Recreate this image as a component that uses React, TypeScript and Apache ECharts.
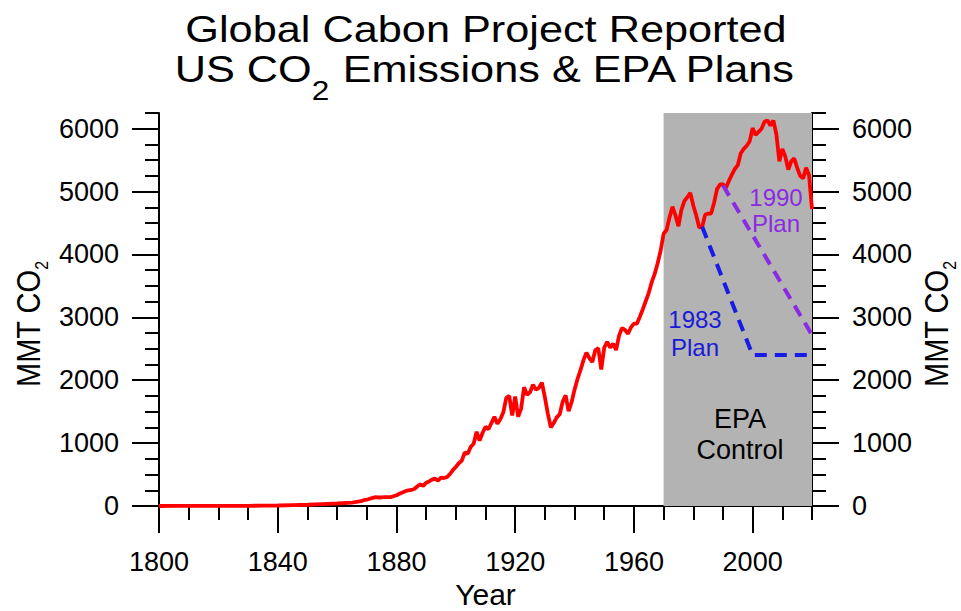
import React, { useEffect, useRef } from 'react';
import * as echarts from 'echarts';

const FONT = '"Liberation Sans", Arial, Helvetica, sans-serif';

// Early (sparse) readings, 1800-1865
const earlyYears = [1800, 1805, 1810, 1815, 1820, 1825, 1830, 1835, 1840, 1845, 1850, 1855, 1860, 1865];
const earlyValues = [0.3, 0.4, 0.6, 0.9, 1.2, 2, 3, 5, 8, 14, 20, 30, 40, 55];

// Annual readings 1866-2020 (MMT CO2)
const annualStart = 1866;
const annualValues = [
  60, 68, 78, 92, 100, 115, 130, 140, 135, 138, // 1866-1875
  140, 142, 140, 155, 170, 195, 215, 235, 250, 255, // 1876-1885
  270, 310, 345, 320, 370, 390, 420, 435, 405, 450, // 1886-1895
  445, 460, 505, 570, 620, 680, 720, 850, 830, 940, // 1896-1905
  990, 1180, 1040, 1160, 1260, 1220, 1320, 1420, 1310, 1380, // 1906-1915
  1490, 1720, 1750, 1440, 1740, 1420, 1550, 1890, 1770, 1810, // 1916-1925
  1930, 1850, 1880, 1960, 1730, 1470, 1250, 1320, 1410, 1460, // 1926-1935
  1660, 1760, 1510, 1650, 1850, 2020, 2160, 2320, 2440, 2350, // 1936-1945
  2290, 2480, 2510, 2170, 2520, 2610, 2520, 2580, 2480, 2710, // 1946-1955
  2830, 2800, 2740, 2840, 2900, 2900, 3010, 3130, 3260, 3390, // 1956-1965
  3560, 3690, 3860, 4060, 4330, 4390, 4590, 4760, 4620, 4450, // 1966-1975
  4710, 4850, 4910, 4980, 4780, 4620, 4430, 4440, 4630, 4650, // 1976-1985
  4650, 4820, 5040, 5110, 5120, 5060, 5170, 5270, 5360, 5420, // 1986-1995
  5610, 5680, 5730, 5800, 6010, 5900, 5950, 6000, 6110, 6130, // 1996-2005
  6050, 6130, 5910, 5480, 5680, 5560, 5350, 5480, 5530, 5380, // 2006-2015
  5250, 5210, 5380, 5260, 4720, // 2016-2020
];

const plan1983Years = [1983, 2000, 2020];
const plan1983Values = [4440, 2400, 2400];
const plan1990Years = [1990, 2020];
const plan1990Values = [5100, 2720];

const epaStart = 1970;
const epaEnd = 2020;

const xMajorTicks = [1800, 1840, 1880, 1920, 1960, 2000];
const xMinorTicks = [1810, 1820, 1830, 1850, 1860, 1870, 1890, 1900, 1910, 1930, 1940, 1950, 1970, 1980, 1990, 2010, 2020];
const yMajorTicks = [0, 1000, 2000, 3000, 4000, 5000, 6000];
const yMinorTicks = [250, 500, 750, 1250, 1500, 1750, 2250, 2500, 2750, 3250, 3500, 3750, 4250, 4500, 4750, 5250, 5500, 5750, 6250];

const X_MIN = 1800, X_MAX = 2020, Y_MIN = 0, Y_MAX = 6250;

export default function App() {
  const ref = useRef<HTMLDivElement>(null);
  useEffect(() => {
    if (!ref.current) return;
    const chart = echarts.init(ref.current, undefined, { renderer: 'svg' });

    const emissions: [number, number][] = [];
    earlyYears.forEach((y, i) => emissions.push([y, earlyValues[i]]));
    annualValues.forEach((v, i) => emissions.push([annualStart + i, v]));

    const axisLine = { show: true, lineStyle: { color: '#000', width: 2 } };
    const tickStyle = { color: '#000', width: 2 };
    const labelStyle = { color: '#000', fontSize: 27, fontFamily: FONT, formatter: (v: number) => String(v) };

    const yBase = { type: 'value', min: Y_MIN, max: Y_MAX, splitLine: { show: false } };
    const xBase = { type: 'value', min: X_MIN, max: X_MAX, splitLine: { show: false } };

    const yNameStyle = (x: number) => ({
      type: 'text',
      x,
      y: 324,
      rotation: Math.PI / 2,
      scaleY: 1.15,
      style: {
        text: 'MMT CO{sub|2}',
        fontSize: 29,
        lineHeight: 34,
        fontFamily: FONT,
        fill: '#000',
        align: 'center',
        verticalAlign: 'top',
        rich: {
          sub: { fontSize: 16, lineHeight: 16, padding: [20, 0, 0, 0], verticalAlign: 'top', fontFamily: FONT, fill: '#000' },
        },
      },
    });

    chart.setOption({
      animation: false,
      backgroundColor: '#fff',
      grid: { left: 159, right: 149, top: 113, bottom: 105, outerBoundsMode: 'none' },
      xAxis: [
        {
          ...xBase,
          position: 'bottom',
          axisLine,
          axisTick: { show: true, customValues: xMajorTicks, length: 27, lineStyle: tickStyle },
          axisLabel: { ...labelStyle, customValues: xMajorTicks, margin: 42 },
          name: 'Year',
          nameLocation: 'middle',
          nameGap: 72,
          nameTextStyle: { color: '#000', fontSize: 30, lineHeight: 30, fontFamily: FONT },
        },
        {
          ...xBase,
          position: 'bottom',
          axisLine: { show: false },
          axisTick: { show: true, customValues: xMinorTicks, length: 14, lineStyle: tickStyle },
          axisLabel: { show: false },
        },
      ],
      yAxis: [
        {
          ...yBase,
          position: 'left',
          axisLine,
          axisTick: { show: true, customValues: yMajorTicks, length: 27, lineStyle: tickStyle },
          axisLabel: { ...labelStyle, customValues: yMajorTicks, margin: 40 },
        },
        {
          ...yBase,
          position: 'left',
          axisLine: { show: false },
          axisTick: { show: true, customValues: yMinorTicks, length: 14, lineStyle: tickStyle },
          axisLabel: { show: false },
        },
        {
          ...yBase,
          position: 'right',
          axisLine,
          axisTick: { show: true, customValues: yMajorTicks, length: 27, lineStyle: tickStyle },
          axisLabel: { ...labelStyle, customValues: yMajorTicks, margin: 40 },
        },
        {
          ...yBase,
          position: 'right',
          axisLine: { show: false },
          axisTick: { show: true, customValues: yMinorTicks, length: 14, lineStyle: tickStyle },
          axisLabel: { show: false },
        },
      ],
      series: [
        {
          name: 'US CO2 emissions',
          type: 'line',
          xAxisIndex: 0,
          yAxisIndex: 0,
          data: emissions,
          showSymbol: false,
          symbol: 'none',
          lineStyle: { color: '#ff0000', width: 3.8 },
          z: 3,
          markArea: {
            silent: true,
            itemStyle: { color: '#b3b3b3' },
            data: [[{ xAxis: epaStart, yAxis: Y_MIN }, { xAxis: epaEnd, yAxis: Y_MAX }]],
          },
        },
        {
          name: '1983 Plan',
          type: 'line',
          xAxisIndex: 0,
          yAxisIndex: 0,
          data: plan1983Years.map((y, i) => [y, plan1983Values[i]]),
          showSymbol: false,
          symbol: 'none',
          lineStyle: { color: '#1a1ae6', width: 4, type: [12, 8] },
          z: 4,
        },
        {
          name: '1990 Plan',
          type: 'line',
          xAxisIndex: 0,
          yAxisIndex: 0,
          data: plan1990Years.map((y, i) => [y, plan1990Values[i]]),
          showSymbol: false,
          symbol: 'none',
          lineStyle: { color: '#8a2be2', width: 4, type: [12, 8] },
          z: 4,
        },
      ],
      graphic: [
        {
          type: 'text',
          x: 486,
          y: 30,
          scaleX: 1.17,
          style: {
            text: 'Global Cabon Project Reported',
            fontSize: 37,
            fontFamily: FONT,
            fill: '#000',
            align: 'center',
            verticalAlign: 'middle',
          },
        },
        {
          type: 'text',
          x: 485,
          y: 48,
          scaleX: 1.17,
          style: {
            text: 'US CO{sub|2} Emissions & EPA Plans',
            fontSize: 37,
            lineHeight: 44,
            fontFamily: FONT,
            fill: '#000',
            align: 'center',
            verticalAlign: 'top',
            rich: {
              sub: { fontSize: 27, lineHeight: 27, padding: [29, 0, 0, 0], verticalAlign: 'top', fontFamily: FONT, fill: '#000' },
            },
          },
        },
        yNameStyle(9),
        yNameStyle(917),
        {
          type: 'text',
          x: 740,
          y: 434,
          z: 10,
          style: {
            text: 'EPA\nControl',
            fontSize: 27,
            lineHeight: 31,
            fontFamily: FONT,
            fill: '#000',
            align: 'center',
            verticalAlign: 'middle',
          },
        },
        {
          type: 'text',
          x: 695,
          y: 333,
          z: 10,
          style: {
            text: '1983\nPlan',
            fontSize: 24,
            lineHeight: 28,
            fontFamily: FONT,
            fill: '#1a1ad8',
            align: 'center',
            verticalAlign: 'middle',
          },
        },
        {
          type: 'text',
          x: 776,
          y: 210,
          z: 10,
          style: {
            text: '1990\nPlan',
            fontSize: 24,
            lineHeight: 26,
            fontFamily: FONT,
            fill: '#8a2be2',
            align: 'center',
            verticalAlign: 'middle',
          },
        },
      ],
    });

    return () => chart.dispose();
  }, []);

  return <div ref={ref} style={{ position: 'fixed', left: 0, top: 0, width: 961, height: 611 }} />;
}
